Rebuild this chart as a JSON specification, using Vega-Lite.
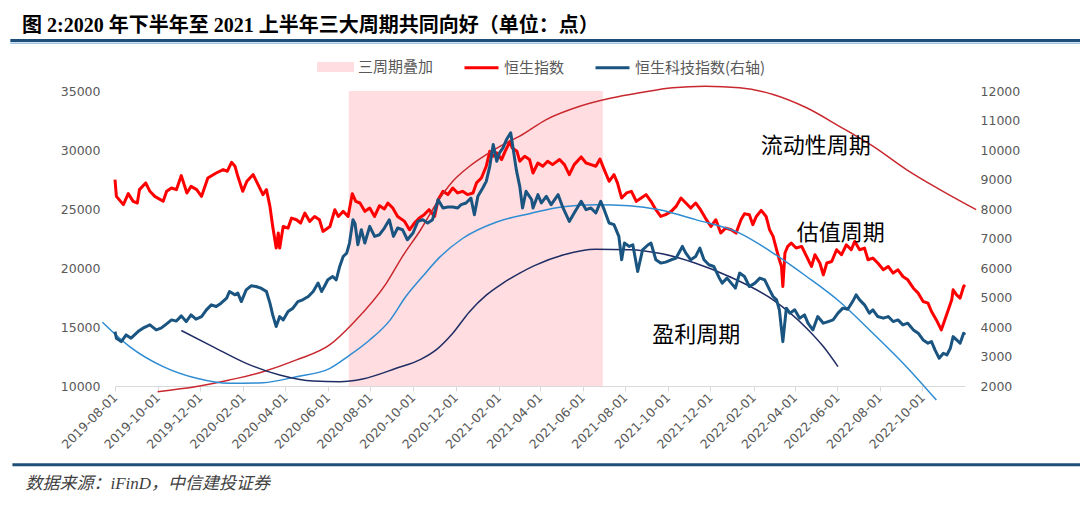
{
  "$schema": "https://vega.github.io/schema/vega-lite/v6.json",
  "width": 850,
  "height": 295,
  "autosize": {"type": "none"},
  "padding": {"left": 115, "top": 91, "right": 115, "bottom": 122},
  "background": "white",
  "title": {
    "text": "图 2:2020 年下半年至 2021 上半年三大周期共同向好（单位：点）",
    "anchor": "start",
    "frame": "group",
    "dx": -93,
    "dy": 25,
    "offset": 12,
    "baseline": "alphabetic",
    "font": "Liberation Serif, Noto Sans CJK SC",
    "fontSize": 20,
    "fontWeight": "bold",
    "color": "#000000"
  },
  "datasets": {
    "period": [{"start": "2020-07-01", "end": "2021-06-30"}],
    "notes": [
      {"date": "2022-05-01", "value": 30356, "text": "流动性周期"},
      {"date": "2022-06-06", "value": 22941, "text": "估值周期"},
      {"date": "2021-11-11", "value": 14322, "text": "盈利周期"}
    ],
    "liq": [
      {"date": "2019-10-01", "value": 9520}, {"date": "2019-11-26", "value": 9950}, {"date": "2020-01-12", "value": 10510},
      {"date": "2020-02-29", "value": 11210}, {"date": "2020-04-17", "value": 12210}, {"date": "2020-06-04", "value": 13500},
      {"date": "2020-07-07", "value": 15320}, {"date": "2020-08-24", "value": 18720}, {"date": "2020-09-16", "value": 20980},
      {"date": "2020-10-12", "value": 23240}, {"date": "2020-11-04", "value": 25510}, {"date": "2020-11-27", "value": 27350},
      {"date": "2020-12-21", "value": 28620}, {"date": "2021-01-14", "value": 29610}, {"date": "2021-02-07", "value": 30460},
      {"date": "2021-03-03", "value": 31170}, {"date": "2021-04-10", "value": 32580}, {"date": "2021-05-28", "value": 33710},
      {"date": "2021-07-14", "value": 34430}, {"date": "2021-08-22", "value": 34850}, {"date": "2021-10-08", "value": 35280},
      {"date": "2021-11-24", "value": 35410}, {"date": "2022-01-12", "value": 35280}, {"date": "2022-03-01", "value": 34710},
      {"date": "2022-04-18", "value": 33580}, {"date": "2022-06-04", "value": 32010}, {"date": "2022-07-22", "value": 30320},
      {"date": "2022-09-08", "value": 28340}, {"date": "2022-10-26", "value": 26640}, {"date": "2022-12-17", "value": 24940}
    ],
    "val": [
      {"date": "2019-07-14", "value": 15410}, {"date": "2019-08-22", "value": 13340}, {"date": "2019-10-09", "value": 11640},
      {"date": "2019-11-26", "value": 10650}, {"date": "2020-01-12", "value": 10230}, {"date": "2020-02-29", "value": 10280},
      {"date": "2020-04-17", "value": 10790}, {"date": "2020-06-04", "value": 11500}, {"date": "2020-07-02", "value": 12600},
      {"date": "2020-07-31", "value": 13900}, {"date": "2020-08-28", "value": 15500}, {"date": "2020-09-21", "value": 17600},
      {"date": "2020-10-15", "value": 19300}, {"date": "2020-11-08", "value": 20900}, {"date": "2020-12-11", "value": 22500},
      {"date": "2021-01-29", "value": 23900}, {"date": "2021-03-17", "value": 24600}, {"date": "2021-05-04", "value": 25200},
      {"date": "2021-06-20", "value": 25370}, {"date": "2021-08-07", "value": 25280}, {"date": "2021-09-19", "value": 24940},
      {"date": "2021-11-10", "value": 24100}, {"date": "2022-01-12", "value": 22960}, {"date": "2022-03-01", "value": 21270},
      {"date": "2022-04-18", "value": 19280}, {"date": "2022-06-04", "value": 17160}, {"date": "2022-07-22", "value": 14470},
      {"date": "2022-09-08", "value": 11640}, {"date": "2022-10-21", "value": 8810}
    ],
    "prof": [
      {"date": "2019-11-04", "value": 14700}, {"date": "2019-12-19", "value": 13340}, {"date": "2020-02-05", "value": 11920},
      {"date": "2020-03-24", "value": 10930}, {"date": "2020-05-11", "value": 10420}, {"date": "2020-06-18", "value": 10370},
      {"date": "2020-07-21", "value": 10600}, {"date": "2020-09-07", "value": 11500}, {"date": "2020-10-12", "value": 12250},
      {"date": "2020-11-04", "value": 13100}, {"date": "2020-11-27", "value": 14470}, {"date": "2020-12-21", "value": 16300},
      {"date": "2021-01-14", "value": 17700}, {"date": "2021-02-07", "value": 18720}, {"date": "2021-03-03", "value": 19570},
      {"date": "2021-03-24", "value": 20200}, {"date": "2021-05-04", "value": 21100}, {"date": "2021-06-20", "value": 21580},
      {"date": "2021-08-07", "value": 21550}, {"date": "2021-09-23", "value": 21200}, {"date": "2021-11-10", "value": 20400},
      {"date": "2021-12-28", "value": 19280}, {"date": "2022-03-01", "value": 17300}, {"date": "2022-04-18", "value": 14900},
      {"date": "2022-05-12", "value": 13340}, {"date": "2022-06-02", "value": 11640}
    ],
    "hsi": [
      {"date": "2019-08-01", "value": 27490}, {"date": "2019-08-03", "value": 26070}, {"date": "2019-08-13", "value": 25370},
      {"date": "2019-08-20", "value": 26300}, {"date": "2019-08-27", "value": 25650}, {"date": "2019-09-02", "value": 25510},
      {"date": "2019-09-05", "value": 26640}, {"date": "2019-09-14", "value": 27210}, {"date": "2019-09-20", "value": 26500},
      {"date": "2019-09-27", "value": 26070}, {"date": "2019-10-09", "value": 25650}, {"date": "2019-10-14", "value": 26500},
      {"date": "2019-10-21", "value": 26780}, {"date": "2019-10-28", "value": 26640}, {"date": "2019-11-04", "value": 27830},
      {"date": "2019-11-12", "value": 26360}, {"date": "2019-11-18", "value": 26920}, {"date": "2019-11-26", "value": 26640},
      {"date": "2019-12-03", "value": 26070}, {"date": "2019-12-12", "value": 27630}, {"date": "2019-12-24", "value": 28050},
      {"date": "2020-01-03", "value": 28340}, {"date": "2020-01-09", "value": 28200}, {"date": "2020-01-15", "value": 28960},
      {"date": "2020-01-20", "value": 28620}, {"date": "2020-01-24", "value": 27770}, {"date": "2020-01-31", "value": 26500},
      {"date": "2020-02-06", "value": 27350}, {"date": "2020-02-15", "value": 27920}, {"date": "2020-02-22", "value": 27070},
      {"date": "2020-02-29", "value": 26220}, {"date": "2020-03-05", "value": 26640}, {"date": "2020-03-10", "value": 25220},
      {"date": "2020-03-14", "value": 23520}, {"date": "2020-03-19", "value": 21690}, {"date": "2020-03-22", "value": 22960},
      {"date": "2020-03-24", "value": 21690}, {"date": "2020-03-29", "value": 23520}, {"date": "2020-04-05", "value": 23380},
      {"date": "2020-04-10", "value": 24230}, {"date": "2020-04-17", "value": 24090}, {"date": "2020-04-23", "value": 23810},
      {"date": "2020-04-29", "value": 24660}, {"date": "2020-05-06", "value": 23950}, {"date": "2020-05-13", "value": 24370},
      {"date": "2020-05-20", "value": 24090}, {"date": "2020-05-25", "value": 23100}, {"date": "2020-06-04", "value": 23520},
      {"date": "2020-06-11", "value": 24940}, {"date": "2020-06-16", "value": 24370}, {"date": "2020-06-23", "value": 24800},
      {"date": "2020-06-30", "value": 24370}, {"date": "2020-07-06", "value": 26300}, {"date": "2020-07-11", "value": 25650},
      {"date": "2020-07-17", "value": 25510}, {"date": "2020-07-24", "value": 24800}, {"date": "2020-07-31", "value": 25080},
      {"date": "2020-08-07", "value": 24370}, {"date": "2020-08-14", "value": 25280}, {"date": "2020-08-21", "value": 25000},
      {"date": "2020-08-26", "value": 25510}, {"date": "2020-09-02", "value": 25080}, {"date": "2020-09-09", "value": 24370},
      {"date": "2020-09-19", "value": 23950}, {"date": "2020-09-26", "value": 23240}, {"date": "2020-10-03", "value": 23810},
      {"date": "2020-10-10", "value": 24230}, {"date": "2020-10-17", "value": 24520}, {"date": "2020-10-24", "value": 24940},
      {"date": "2020-11-01", "value": 24370}, {"date": "2020-11-06", "value": 25790}, {"date": "2020-11-13", "value": 26500},
      {"date": "2020-11-20", "value": 26220}, {"date": "2020-11-27", "value": 26780}, {"date": "2020-12-04", "value": 26360},
      {"date": "2020-12-11", "value": 26500}, {"date": "2020-12-18", "value": 26220}, {"date": "2020-12-26", "value": 26360},
      {"date": "2020-12-31", "value": 27210}, {"date": "2021-01-07", "value": 27630}, {"date": "2021-01-14", "value": 28620},
      {"date": "2021-01-19", "value": 29890}, {"date": "2021-01-24", "value": 29470}, {"date": "2021-01-29", "value": 29750},
      {"date": "2021-02-05", "value": 29190}, {"date": "2021-02-10", "value": 29890}, {"date": "2021-02-17", "value": 30740},
      {"date": "2021-02-20", "value": 30180}, {"date": "2021-02-27", "value": 29890}, {"date": "2021-03-03", "value": 29050},
      {"date": "2021-03-10", "value": 29470}, {"date": "2021-03-17", "value": 29200}, {"date": "2021-03-22", "value": 28050},
      {"date": "2021-03-29", "value": 28900}, {"date": "2021-04-05", "value": 28620}, {"date": "2021-04-12", "value": 29050},
      {"date": "2021-04-19", "value": 28760}, {"date": "2021-04-29", "value": 29190}, {"date": "2021-05-06", "value": 28760},
      {"date": "2021-05-13", "value": 27910}, {"date": "2021-05-20", "value": 28760}, {"date": "2021-05-30", "value": 29410},
      {"date": "2021-06-06", "value": 28900}, {"date": "2021-06-13", "value": 28760}, {"date": "2021-06-20", "value": 28620},
      {"date": "2021-06-26", "value": 29240}, {"date": "2021-07-02", "value": 28340}, {"date": "2021-07-09", "value": 27350},
      {"date": "2021-07-16", "value": 27910}, {"date": "2021-07-21", "value": 27210}, {"date": "2021-07-27", "value": 25930},
      {"date": "2021-08-03", "value": 26360}, {"date": "2021-08-10", "value": 26500}, {"date": "2021-08-17", "value": 25650},
      {"date": "2021-08-24", "value": 25930}, {"date": "2021-08-31", "value": 26220}, {"date": "2021-09-07", "value": 25650},
      {"date": "2021-09-14", "value": 24940}, {"date": "2021-09-21", "value": 24370}, {"date": "2021-09-28", "value": 24520},
      {"date": "2021-10-06", "value": 24800}, {"date": "2021-10-13", "value": 25220}, {"date": "2021-10-20", "value": 25930},
      {"date": "2021-10-27", "value": 25510}, {"date": "2021-11-03", "value": 25080}, {"date": "2021-11-10", "value": 25510},
      {"date": "2021-11-17", "value": 24940}, {"date": "2021-11-24", "value": 24230}, {"date": "2021-12-02", "value": 23520},
      {"date": "2021-12-09", "value": 24090}, {"date": "2021-12-16", "value": 22960}, {"date": "2021-12-23", "value": 23380},
      {"date": "2021-12-31", "value": 23240}, {"date": "2022-01-07", "value": 22960}, {"date": "2022-01-14", "value": 24090},
      {"date": "2022-01-19", "value": 24600}, {"date": "2022-01-26", "value": 24520}, {"date": "2022-01-31", "value": 23670},
      {"date": "2022-02-05", "value": 24370}, {"date": "2022-02-12", "value": 24880}, {"date": "2022-02-19", "value": 24370},
      {"date": "2022-02-24", "value": 23240}, {"date": "2022-03-01", "value": 22680}, {"date": "2022-03-06", "value": 21550},
      {"date": "2022-03-10", "value": 20700}, {"date": "2022-03-13", "value": 20130}, {"date": "2022-03-15", "value": 18430},
      {"date": "2022-03-18", "value": 21270}, {"date": "2022-03-22", "value": 21830}, {"date": "2022-03-27", "value": 22120},
      {"date": "2022-04-03", "value": 21690}, {"date": "2022-04-11", "value": 21830}, {"date": "2022-04-18", "value": 20980},
      {"date": "2022-04-25", "value": 20130}, {"date": "2022-04-30", "value": 21120}, {"date": "2022-05-07", "value": 20420},
      {"date": "2022-05-12", "value": 19420}, {"date": "2022-05-17", "value": 20420}, {"date": "2022-05-24", "value": 20550},
      {"date": "2022-05-31", "value": 21550}, {"date": "2022-06-07", "value": 21120}, {"date": "2022-06-14", "value": 21970},
      {"date": "2022-06-21", "value": 21550}, {"date": "2022-06-26", "value": 22250}, {"date": "2022-07-03", "value": 21550},
      {"date": "2022-07-10", "value": 21690}, {"date": "2022-07-15", "value": 20700}, {"date": "2022-07-22", "value": 20840},
      {"date": "2022-07-29", "value": 20420}, {"date": "2022-08-06", "value": 19850}, {"date": "2022-08-13", "value": 20130},
      {"date": "2022-08-20", "value": 19570}, {"date": "2022-08-27", "value": 19850}, {"date": "2022-09-03", "value": 19280},
      {"date": "2022-09-10", "value": 19000}, {"date": "2022-09-18", "value": 18290}, {"date": "2022-09-25", "value": 17870},
      {"date": "2022-10-02", "value": 17160}, {"date": "2022-10-09", "value": 17020}, {"date": "2022-10-14", "value": 16310},
      {"date": "2022-10-21", "value": 15600}, {"date": "2022-10-28", "value": 14750}, {"date": "2022-11-02", "value": 15600},
      {"date": "2022-11-07", "value": 16450}, {"date": "2022-11-12", "value": 17300}, {"date": "2022-11-14", "value": 18150},
      {"date": "2022-11-19", "value": 17730}, {"date": "2022-11-24", "value": 17450}, {"date": "2022-11-29", "value": 18430},
      {"date": "2022-12-01", "value": 18570}
    ],
    "hst": [
      {"date": "2019-08-01", "value": 3844}, {"date": "2019-08-03", "value": 3620}, {"date": "2019-08-10", "value": 3504},
      {"date": "2019-08-17", "value": 3732}, {"date": "2019-08-24", "value": 3620}, {"date": "2019-09-03", "value": 3844},
      {"date": "2019-09-10", "value": 3960}, {"date": "2019-09-20", "value": 4072}, {"date": "2019-09-29", "value": 3902},
      {"date": "2019-10-06", "value": 3960}, {"date": "2019-10-14", "value": 4106}, {"date": "2019-10-21", "value": 4241},
      {"date": "2019-10-28", "value": 4200}, {"date": "2019-11-04", "value": 4377}, {"date": "2019-11-11", "value": 4184},
      {"date": "2019-11-18", "value": 4411}, {"date": "2019-11-25", "value": 4264}, {"date": "2019-12-03", "value": 4354},
      {"date": "2019-12-10", "value": 4581}, {"date": "2019-12-17", "value": 4751}, {"date": "2019-12-24", "value": 4694},
      {"date": "2019-12-31", "value": 4808}, {"date": "2020-01-08", "value": 4978}, {"date": "2020-01-12", "value": 5202},
      {"date": "2020-01-20", "value": 5090}, {"date": "2020-01-24", "value": 5148}, {"date": "2020-01-29", "value": 4862},
      {"date": "2020-02-05", "value": 5260}, {"date": "2020-02-12", "value": 5396}, {"date": "2020-02-19", "value": 5372},
      {"date": "2020-02-26", "value": 5318}, {"date": "2020-03-05", "value": 5202}, {"date": "2020-03-10", "value": 4808},
      {"date": "2020-03-14", "value": 4411}, {"date": "2020-03-19", "value": 4014}, {"date": "2020-03-24", "value": 4354},
      {"date": "2020-03-29", "value": 4241}, {"date": "2020-04-05", "value": 4523}, {"date": "2020-04-12", "value": 4639},
      {"date": "2020-04-19", "value": 4862}, {"date": "2020-04-26", "value": 4921}, {"date": "2020-05-04", "value": 5033},
      {"date": "2020-05-11", "value": 5202}, {"date": "2020-05-18", "value": 5488}, {"date": "2020-05-23", "value": 5202},
      {"date": "2020-05-27", "value": 5372}, {"date": "2020-06-01", "value": 5600}, {"date": "2020-06-08", "value": 5712},
      {"date": "2020-06-13", "value": 5600}, {"date": "2020-06-18", "value": 6052}, {"date": "2020-06-23", "value": 6391},
      {"date": "2020-06-28", "value": 6506}, {"date": "2020-07-02", "value": 6846}, {"date": "2020-07-07", "value": 7637},
      {"date": "2020-07-10", "value": 7500}, {"date": "2020-07-14", "value": 6788}, {"date": "2020-07-19", "value": 7298},
      {"date": "2020-07-24", "value": 6846}, {"date": "2020-07-31", "value": 7410}, {"date": "2020-08-07", "value": 7071},
      {"date": "2020-08-14", "value": 7128}, {"date": "2020-08-21", "value": 7355}, {"date": "2020-08-28", "value": 7637},
      {"date": "2020-09-03", "value": 7071}, {"date": "2020-09-09", "value": 7355}, {"date": "2020-09-16", "value": 7298},
      {"date": "2020-09-23", "value": 6958}, {"date": "2020-10-01", "value": 7185}, {"date": "2020-10-08", "value": 7580},
      {"date": "2020-10-15", "value": 7637}, {"date": "2020-10-22", "value": 7525}, {"date": "2020-10-29", "value": 7637},
      {"date": "2020-11-06", "value": 8317}, {"date": "2020-11-13", "value": 8035}, {"date": "2020-11-20", "value": 8069},
      {"date": "2020-11-27", "value": 8069}, {"date": "2020-12-04", "value": 8035}, {"date": "2020-12-09", "value": 8147},
      {"date": "2020-12-16", "value": 8204}, {"date": "2020-12-23", "value": 8374}, {"date": "2020-12-28", "value": 7807},
      {"date": "2021-01-02", "value": 8430}, {"date": "2021-01-09", "value": 8714}, {"date": "2021-01-14", "value": 8938},
      {"date": "2021-01-19", "value": 9447}, {"date": "2021-01-24", "value": 10184}, {"date": "2021-01-29", "value": 9617},
      {"date": "2021-02-02", "value": 9903}, {"date": "2021-02-07", "value": 10072}, {"date": "2021-02-12", "value": 10354},
      {"date": "2021-02-18", "value": 10582}, {"date": "2021-02-21", "value": 10127}, {"date": "2021-02-26", "value": 9335},
      {"date": "2021-03-03", "value": 8768}, {"date": "2021-03-07", "value": 8035}, {"date": "2021-03-12", "value": 8599},
      {"date": "2021-03-20", "value": 8317}, {"date": "2021-03-22", "value": 8035}, {"date": "2021-03-29", "value": 8486},
      {"date": "2021-04-03", "value": 8204}, {"date": "2021-04-10", "value": 8430}, {"date": "2021-04-17", "value": 8147},
      {"date": "2021-04-27", "value": 8486}, {"date": "2021-05-04", "value": 8035}, {"date": "2021-05-13", "value": 7580},
      {"date": "2021-05-20", "value": 7865}, {"date": "2021-05-30", "value": 8259}, {"date": "2021-06-06", "value": 7977},
      {"date": "2021-06-13", "value": 8035}, {"date": "2021-06-20", "value": 7865}, {"date": "2021-06-27", "value": 8259},
      {"date": "2021-07-02", "value": 7977}, {"date": "2021-07-09", "value": 7525}, {"date": "2021-07-16", "value": 7468},
      {"date": "2021-07-23", "value": 7071}, {"date": "2021-07-27", "value": 6279}, {"date": "2021-07-31", "value": 6846},
      {"date": "2021-08-07", "value": 6731}, {"date": "2021-08-12", "value": 6788}, {"date": "2021-08-19", "value": 5882},
      {"date": "2021-08-26", "value": 6618}, {"date": "2021-09-03", "value": 6788}, {"date": "2021-09-07", "value": 6846},
      {"date": "2021-09-14", "value": 6279}, {"date": "2021-09-21", "value": 6166}, {"date": "2021-09-28", "value": 6200},
      {"date": "2021-10-06", "value": 6279}, {"date": "2021-10-13", "value": 6336}, {"date": "2021-10-22", "value": 6731},
      {"date": "2021-10-27", "value": 6506}, {"date": "2021-11-03", "value": 6279}, {"date": "2021-11-10", "value": 6391},
      {"date": "2021-11-16", "value": 6676}, {"date": "2021-11-22", "value": 6279}, {"date": "2021-11-29", "value": 6109},
      {"date": "2021-12-06", "value": 6052}, {"date": "2021-12-14", "value": 5657}, {"date": "2021-12-18", "value": 5488},
      {"date": "2021-12-25", "value": 5657}, {"date": "2021-12-31", "value": 5488}, {"date": "2022-01-06", "value": 5318},
      {"date": "2022-01-12", "value": 5827}, {"date": "2022-01-19", "value": 5712}, {"date": "2022-01-26", "value": 5372},
      {"date": "2022-02-03", "value": 5488}, {"date": "2022-02-10", "value": 5657}, {"date": "2022-02-17", "value": 5600},
      {"date": "2022-02-24", "value": 5260}, {"date": "2022-03-01", "value": 5033}, {"date": "2022-03-06", "value": 4921},
      {"date": "2022-03-10", "value": 4581}, {"date": "2022-03-15", "value": 3504}, {"date": "2022-03-20", "value": 4639},
      {"date": "2022-03-25", "value": 4469}, {"date": "2022-04-01", "value": 4581}, {"date": "2022-04-08", "value": 4299},
      {"date": "2022-04-15", "value": 4411}, {"date": "2022-04-20", "value": 4129}, {"date": "2022-04-27", "value": 3902},
      {"date": "2022-05-04", "value": 4354}, {"date": "2022-05-12", "value": 4129}, {"date": "2022-05-19", "value": 4184},
      {"date": "2022-05-26", "value": 4241}, {"date": "2022-06-02", "value": 4469}, {"date": "2022-06-09", "value": 4639},
      {"date": "2022-06-16", "value": 4600}, {"date": "2022-06-23", "value": 4862}, {"date": "2022-06-28", "value": 5090},
      {"date": "2022-07-03", "value": 4921}, {"date": "2022-07-10", "value": 4751}, {"date": "2022-07-17", "value": 4469},
      {"date": "2022-07-22", "value": 4581}, {"date": "2022-07-29", "value": 4354}, {"date": "2022-08-06", "value": 4299},
      {"date": "2022-08-13", "value": 4354}, {"date": "2022-08-20", "value": 4184}, {"date": "2022-08-27", "value": 4241},
      {"date": "2022-09-03", "value": 4072}, {"date": "2022-09-10", "value": 4129}, {"date": "2022-09-18", "value": 3902},
      {"date": "2022-09-25", "value": 3790}, {"date": "2022-10-02", "value": 3562}, {"date": "2022-10-09", "value": 3450},
      {"date": "2022-10-14", "value": 3504}, {"date": "2022-10-19", "value": 3223}, {"date": "2022-10-25", "value": 2941},
      {"date": "2022-10-31", "value": 3110}, {"date": "2022-11-05", "value": 3053}, {"date": "2022-11-10", "value": 3280},
      {"date": "2022-11-14", "value": 3674}, {"date": "2022-11-19", "value": 3562}, {"date": "2022-11-24", "value": 3450},
      {"date": "2022-11-29", "value": 3790}, {"date": "2022-12-01", "value": 3732}
    ]
  },
  "layer": [
    {
      "layer": [
        {
          "data": {"name": "period"},
          "mark": {"type": "rect"},
          "encoding": {
            "x": {
              "field": "start",
              "type": "temporal",
              "scale": {
                "type": "utc",
                "nice": false,
                "domain": [
                  {"year": 2019, "month": 8, "date": 1, "utc": true},
                  {"year": 2022, "month": 12, "date": 1, "utc": true}
                ]
              },
              "axis": {
                "orient": "bottom",
                "format": "%Y-%m-%d",
                "values": [
                  {"year": 2019, "month": 8, "date": 1, "utc": true},
                  {"year": 2019, "month": 10, "date": 1, "utc": true},
                  {"year": 2019, "month": 12, "date": 1, "utc": true},
                  {"year": 2020, "month": 2, "date": 1, "utc": true},
                  {"year": 2020, "month": 4, "date": 1, "utc": true},
                  {"year": 2020, "month": 6, "date": 1, "utc": true},
                  {"year": 2020, "month": 8, "date": 1, "utc": true},
                  {"year": 2020, "month": 10, "date": 1, "utc": true},
                  {"year": 2020, "month": 12, "date": 1, "utc": true},
                  {"year": 2021, "month": 2, "date": 1, "utc": true},
                  {"year": 2021, "month": 4, "date": 1, "utc": true},
                  {"year": 2021, "month": 6, "date": 1, "utc": true},
                  {"year": 2021, "month": 8, "date": 1, "utc": true},
                  {"year": 2021, "month": 10, "date": 1, "utc": true},
                  {"year": 2021, "month": 12, "date": 1, "utc": true},
                  {"year": 2022, "month": 2, "date": 1, "utc": true},
                  {"year": 2022, "month": 4, "date": 1, "utc": true},
                  {"year": 2022, "month": 6, "date": 1, "utc": true},
                  {"year": 2022, "month": 8, "date": 1, "utc": true},
                  {"year": 2022, "month": 10, "date": 1, "utc": true}
                ],
                "labelAngle": -45,
                "labelAlign": "right",
                "labelBaseline": "middle",
                "labelPadding": 4,
                "labelOverlap": false,
                "labelFlush": false,
                "labelFont": "DejaVu Sans",
                "labelFontSize": 12.5,
                "labelColor": "#595959",
                "domainColor": "#D9D9D9",
                "domainWidth": 1,
                "tickColor": "#D9D9D9",
                "tickSize": 5,
                "grid": false,
                "title": "数据来源：iFinD，中信建投证券",
                "titleAnchor": "start",
                "titleAlign": "left",
                "titleBaseline": "middle",
                "titleX": -90,
                "titleY": 97,
                "titleFont": "Liberation Serif, Noto Sans CJK SC",
                "titleFontSize": 17,
                "titleFontStyle": "italic",
                "titleFontWeight": "normal",
                "titleColor": "#404040"
              }
            },
            "x2": {"field": "end"},
            "color": {
              "datum": "三周期叠加",
              "type": "nominal",
              "scale": {
                "domain": ["三周期叠加", "恒生指数", "恒生科技指数(右轴)"],
                "range": ["#FFDDE0", "#FF0000", "#1A5480"]
              },
              "legend": {
                "orient": "none",
                "legendX": 202,
                "legendY": -43,
                "direction": "horizontal",
                "title": null,
                "padding": 0,
                "columnPadding": 24,
                "labelOffset": 4,
                "symbolType": "stroke",
                "symbolSize": 1156,
                "symbolStrokeWidth": 3,
                "labelFont": "Noto Sans CJK SC",
                "labelFontSize": 15,
                "labelColor": "#595959",
                "encode": {
                  "symbols": {
                    "update": {
                      "shape": {"signal": "datum.value === '三周期叠加' ? 'M-1,-0.21H1V0.21H-1Z' : 'stroke'"},
                      "fill": {"signal": "datum.value === '三周期叠加' ? '#FFDDE0' : 'transparent'"},
                      "stroke": {"signal": "datum.value === '三周期叠加' ? 'transparent' : (datum.value === '恒生指数' ? '#FF0000' : '#1A5480')"},
                      "strokeWidth": {"value": 3},
                      "opacity": {"value": 1},
                      "fillOpacity": {"value": 1}
                    }
                  }
                }
              }
            }
          }
        },
        {
          "data": {"name": "hsi"},
          "mark": {"type": "line", "strokeWidth": 3},
          "encoding": {
            "x": {"field": "date", "type": "temporal"},
            "y": {
              "field": "value",
              "type": "quantitative",
              "scale": {"domain": [10000, 35000], "nice": false, "zero": false},
              "axis": {
                "orient": "left",
                "values": [10000, 15000, 20000, 25000, 30000, 35000],
                "format": "d",
                "domain": false,
                "ticks": false,
                "grid": false,
                "labelPadding": 15,
                "labelFont": "DejaVu Sans",
                "labelFontSize": 12.5,
                "labelColor": "#595959",
                "title": null
              }
            },
            "color": {"datum": "恒生指数", "type": "nominal"}
          }
        },
        {
          "data": {"name": "liq"},
          "mark": {"type": "line", "interpolate": "monotone", "strokeWidth": 1.5, "color": "#C8282E"},
          "encoding": {
            "x": {"field": "date", "type": "temporal"},
            "y": {"field": "value", "type": "quantitative"}
          }
        },
        {
          "data": {"name": "val"},
          "mark": {"type": "line", "interpolate": "monotone", "strokeWidth": 1.5, "color": "#2E8CD2"},
          "encoding": {
            "x": {"field": "date", "type": "temporal"},
            "y": {"field": "value", "type": "quantitative"}
          }
        },
        {
          "data": {"name": "prof"},
          "mark": {"type": "line", "interpolate": "monotone", "strokeWidth": 1.5, "color": "#1F2D64"},
          "encoding": {
            "x": {"field": "date", "type": "temporal"},
            "y": {"field": "value", "type": "quantitative"}
          }
        },
        {
          "data": {"name": "notes"},
          "mark": {"type": "text", "font": "Noto Sans CJK SC", "fontSize": 22, "color": "#000000", "align": "center", "baseline": "middle"},
          "encoding": {
            "x": {"field": "date", "type": "temporal"},
            "y": {"field": "value", "type": "quantitative"},
            "text": {"field": "text", "type": "nominal"}
          }
        },
        {
          "data": {"values": [{}]},
          "mark": {"type": "rule", "color": "#1F4E79", "strokeWidth": 3},
          "encoding": {
            "x": {"datum": {"year": 2019, "month": 3, "date": 4, "utc": true}, "type": "temporal"},
            "x2": {"datum": {"year": 2023, "month": 5, "date": 15, "utc": true}},
            "y": {"datum": 39280, "type": "quantitative"}
          }
        },
        {
          "data": {"values": [{}]},
          "mark": {"type": "rule", "color": "#9DC3E6", "strokeWidth": 1.5},
          "encoding": {
            "x": {"datum": {"year": 2019, "month": 3, "date": 4, "utc": true}, "type": "temporal"},
            "x2": {"datum": {"year": 2023, "month": 5, "date": 15, "utc": true}},
            "y": {"datum": 39050, "type": "quantitative"}
          }
        },
        {
          "data": {"values": [{}]},
          "mark": {"type": "rule", "color": "#1F4E79", "strokeWidth": 3},
          "encoding": {
            "x": {"datum": {"year": 2019, "month": 3, "date": 7, "utc": true}, "type": "temporal"},
            "x2": {"datum": {"year": 2023, "month": 5, "date": 15, "utc": true}},
            "y": {"datum": 3322, "type": "quantitative"}
          }
        }
      ]
    },
    {
      "data": {"name": "hst"},
      "mark": {"type": "line", "strokeWidth": 3},
      "encoding": {
        "x": {"field": "date", "type": "temporal"},
        "y": {
          "field": "value",
          "type": "quantitative",
          "scale": {"domain": [2000, 12000], "nice": false, "zero": false},
          "axis": {
            "orient": "right",
            "values": [2000, 3000, 4000, 5000, 6000, 7000, 8000, 9000, 10000, 11000, 12000],
            "format": "d",
            "domain": false,
            "ticks": false,
            "grid": false,
            "labelPadding": 15,
            "labelFont": "DejaVu Sans",
            "labelFontSize": 12.5,
            "labelColor": "#595959",
            "title": null
          }
        },
        "color": {"datum": "恒生科技指数(右轴)", "type": "nominal"}
      }
    }
  ],
  "resolve": {"scale": {"y": "independent"}, "axis": {"y": "independent"}},
  "config": {
    "view": {"stroke": null},
    "line": {"strokeJoin": "round", "strokeCap": "butt"}
  }
}
